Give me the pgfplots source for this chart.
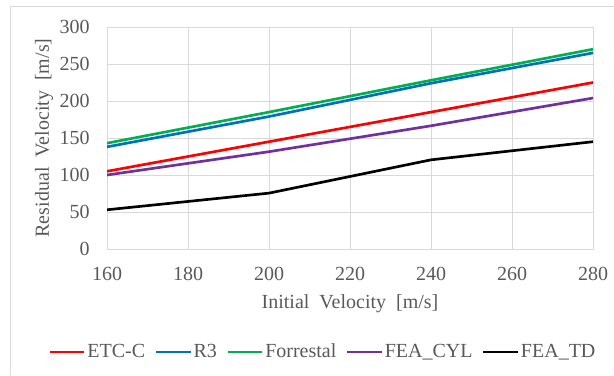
\documentclass[border=0pt]{standalone}
\usepackage{fontspec}
\setmainfont{Liberation Serif}
\usepackage{pgfplots}
\pgfplotsset{compat=1.18}
\definecolor{txt}{HTML}{595959}
\definecolor{gridc}{HTML}{D9D9D9}
\definecolor{cred}{HTML}{FF0000}
\definecolor{cblue}{HTML}{0070C0}
\definecolor{cgreen}{HTML}{00B050}
\definecolor{cpurple}{HTML}{7030A0}
\begin{document}
\begin{tikzpicture}
\useasboundingbox (0,0) rectangle (460.5pt,281.25pt);
\draw[gridc, line width=0.75pt] (7.5pt,0) -- (7.5pt,276pt) -- (460.5pt,276pt);
\begin{axis}[
  at={(80.25pt,94.5pt)}, anchor=south west,
  scale only axis, width=364.5pt, height=166.5pt,
  xmin=160, xmax=280, ymin=0, ymax=300,
  xtick={160,180,...,280}, ytick={0,50,...,300},
  grid=major, major grid style={gridc, line width=0.75pt},
  axis line style={gridc, line width=0.75pt},
  tick style={draw=none},
  /pgf/number format/assume math mode=true,
  ticklabel style={font=\fontsize{15}{18}\selectfont, text=txt, inner sep=0pt},
  yticklabel style={anchor=east, xshift=-12.75pt},
  xticklabel style={anchor=north, yshift=-13.5pt},
  xlabel={Initial~~Velocity~~[m/s]},
  ylabel={Residual~~Velocity~~[m/s]},
  label style={font=\fontsize{15}{18}\selectfont, text=txt},
  xlabel style={at={(axis description cs:0.5,-0.247)}, anchor=center},
  ylabel style={at={(axis description cs:-0.1296,0.5)}, anchor=center},
  legend columns=5,
  legend style={at={(axis description cs:-0.121,-0.464)}, anchor=west,
    draw=none, fill=none, font=\fontsize{15}{18}\selectfont, text=txt,
    inner sep=0pt, nodes={inner xsep=1.2pt, inner ysep=0pt},
    /tikz/every even column/.append style={column sep=5.9pt}},
  legend image code/.code={\draw[#1, line width=2pt] (0pt,0pt) -- (26pt,0pt);},
  every axis plot/.append style={line width=2pt},
]
\addplot[cred] coordinates {(160,105) (200,145) (240,185) (280,225)};
\addlegendentry{ETC-C}
\addplot[cblue] coordinates {(160,138) (200,179) (240,224) (280,265)};
\addlegendentry{R3}
\addplot[cgreen] coordinates {(160,143) (200,185) (240,228) (280,270)};
\addlegendentry{Forrestal}
\addplot[cpurple] coordinates {(160,100) (200,131.5) (240,166.5) (280,204)};
\addlegendentry{FEA\_CYL}
\addplot[black] coordinates {(160,53) (200,75.5) (240,120.5) (280,145)};
\addlegendentry{FEA\_TD}
\end{axis}
\end{tikzpicture}
\end{document}
